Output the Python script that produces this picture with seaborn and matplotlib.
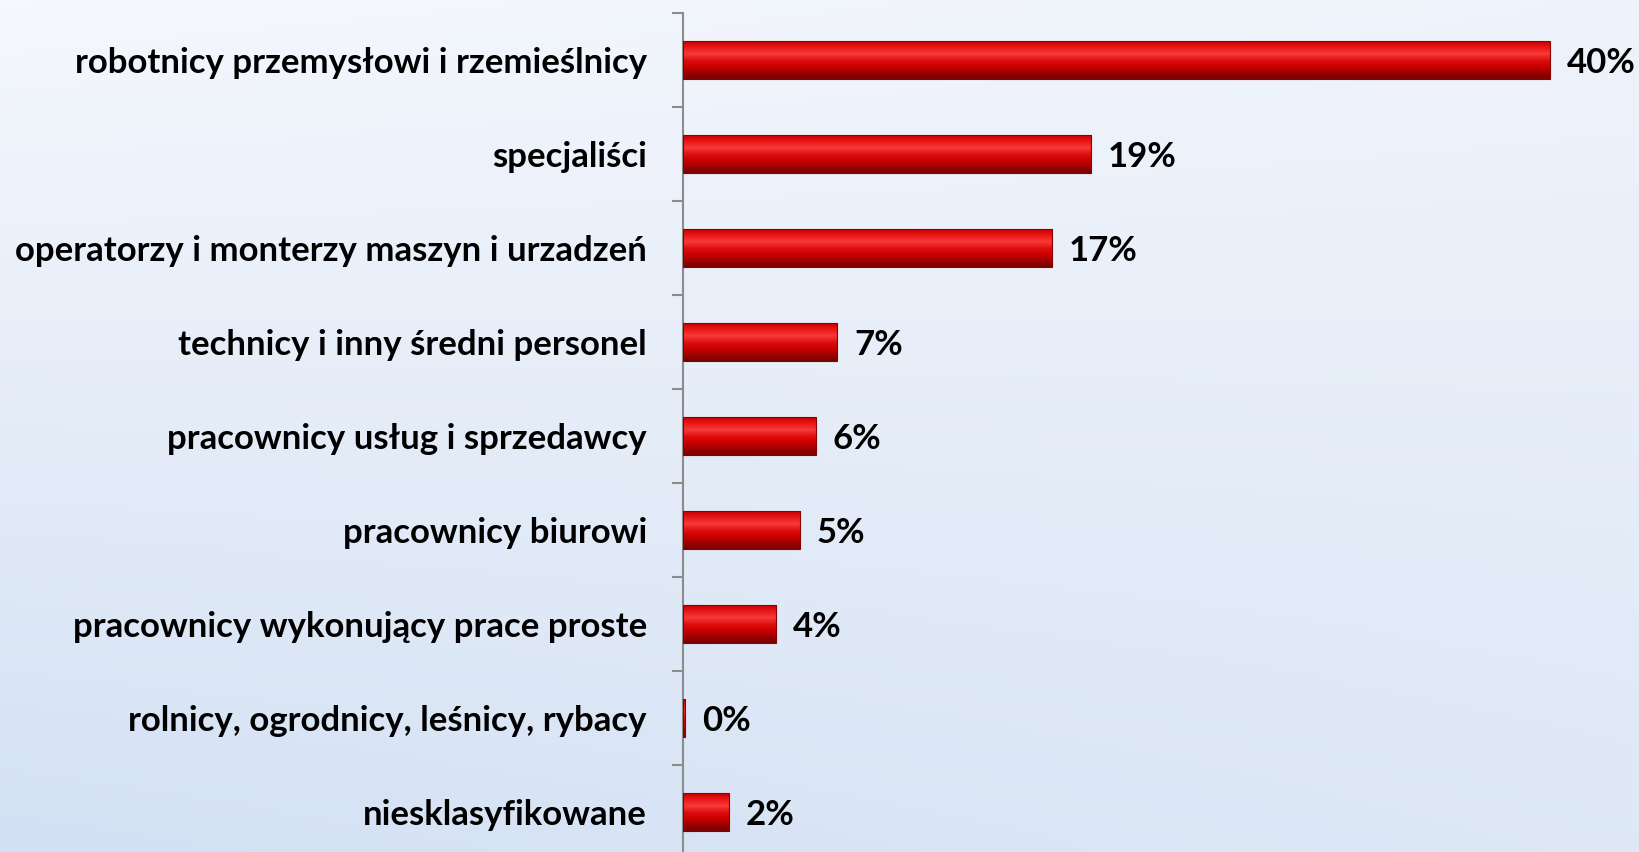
import numpy as np
import pandas as pd
import matplotlib
matplotlib.use("Agg")
import matplotlib.pyplot as plt
from matplotlib.colors import LinearSegmentedColormap
import seaborn as sns

# data
categories = [
    "robotnicy przemysłowi i rzemieślnicy",
    "specjaliści",
    "operatorzy i monterzy maszyn i urzadzeń",
    "technicy i inny średni personel",
    "pracownicy usług i sprzedawcy",
    "pracownicy biurowi",
    "pracownicy wykonujący prace proste",
    "rolnicy, ogrodnicy, leśnicy, rybacy",
    "niesklasyfikowane",
]
values = [39.9, 18.8, 17.0, 7.1, 6.1, 5.4, 4.3, 0.1, 2.1]
value_labels = ["40%", "19%", "17%", "7%", "6%", "5%", "4%", "0%", "2%"]

df = pd.DataFrame({"kategoria": categories, "udzial": values})

sns.set_theme(style="white")
plt.rcParams["font.family"] = ["Lato", "DejaVu Sans"]

fig = plt.figure(figsize=(16.39, 8.52), dpi=100)

# background gradient
bg = fig.add_axes([0, 0, 1, 1], zorder=0)
yy, xx = np.mgrid[0:1:200j, 0:1:400j]
shade = 0.55 * yy + 0.25 * (1 - xx) * yy + 0.15 * xx * (1 - yy)
bg_cmap = LinearSegmentedColormap.from_list("bg", ["#F5F8FD", "#E4ECF8", "#D3E1F4"])
bg.imshow(shade, cmap=bg_cmap, aspect="auto", extent=(0, 1, 0, 1), origin="upper", vmin=0, vmax=0.8)
bg.axis("off")

ax = fig.add_axes([683 / 1639, -7 / 852, (1639 - 683) / 1639, 846 / 852], zorder=1)
ax.patch.set_alpha(0)

sns.barplot(data=df, x="udzial", y="kategoria", orient="h", color="#D00000",
            width=0.4, edgecolor="#8A0000", linewidth=0.8, ax=ax)

# bevel-like red gradient on each bar
bar_cmap = LinearSegmentedColormap.from_list(
    "bar", ["#C80000", "#EC1818", "#F73A3A", "#E01010", "#CC0000", "#A00000", "#7A0000"])
grad = np.linspace(0, 1, 64).reshape(-1, 1)
for patch in ax.patches:
    x0, y0 = patch.get_x(), patch.get_y()
    w, h = patch.get_width(), patch.get_height()
    im = ax.imshow(grad, cmap=bar_cmap, aspect="auto", origin="upper",
                   extent=(x0, x0 + w, y0 + h, y0), zorder=2)
    im.set_clip_path(patch)
    patch.set_zorder(3)
    patch.set_facecolor("none")

ax.set_xlim(0, 44.0)
ax.set_ylim(len(categories) - 0.5, -0.5)

for i, (v, lab) in enumerate(zip(values, value_labels)):
    ax.annotate(lab, xy=(v, i), xytext=(12, 0), textcoords="offset points",
                va="center_baseline", ha="left", fontsize=25, fontweight="bold", color="black")

ax.set_xlabel("")
ax.set_ylabel("")
ax.set_xticks([])
ax.tick_params(axis="y", which="major", length=0, pad=26, labelsize=25)
for t in ax.get_yticklabels():
    t.set_fontweight("bold")
    t.set_color("black")
    t.set_verticalalignment("center_baseline")
ax.set_yticks(np.arange(-0.5, len(categories), 1), minor=True)
ax.tick_params(axis="y", which="minor", length=8, width=1.5, color="#8C8C8C", left=True)
for s in ["top", "right", "bottom"]:
    ax.spines[s].set_visible(False)
ax.spines["left"].set_color("#8C8C8C")
ax.spines["left"].set_linewidth(1.5)

fig.savefig("out.png", dpi=100)
